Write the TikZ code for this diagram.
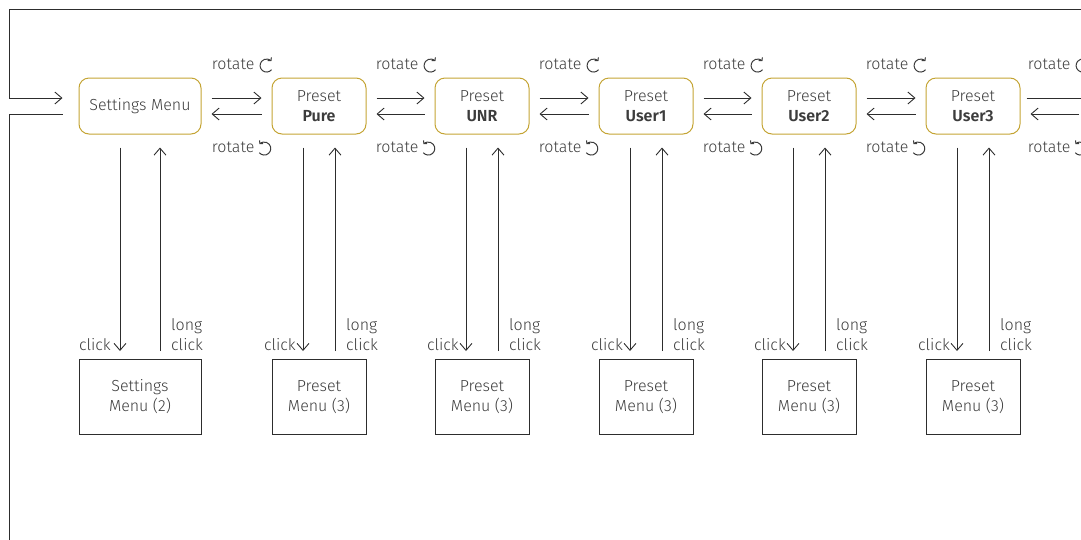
\documentclass[tikz,border=0pt]{standalone}
\usepackage{fontspec}
\setmainfont{Fira Sans}[UprightFont=* Light, BoldFont=* SemiBold]
\usetikzlibrary{arrows.meta,positioning}

\definecolor{menugold}{RGB}{196,164,52}
\definecolor{textgray}{RGB}{60,60,60}
\definecolor{linegray}{RGB}{45,45,45}

% small turn symbols
\newcommand{\cwsym}{\tikz[baseline=-4pt, x=1pt, y=1pt]
  \draw[textgray, line width=1pt, -{Straight Barb[length=2.2pt,width=5pt]}]
  (-40:6.5) arc[start angle=-40, end angle=-318, radius=6.5];}
\newcommand{\ccwsym}{\tikz[baseline=-4pt, x=1pt, y=1pt]
  \draw[textgray, line width=1pt, -{Straight Barb[length=2.2pt,width=5pt]}]
  (220:6.5) arc[start angle=220, end angle=498, radius=6.5];}

\tikzset{
  statebox/.style={draw=menugold, rounded corners=10pt, line width=1pt,
    minimum height=56pt, minimum width=94pt, text=textgray, align=center,
    inner sep=0pt, font=\fontsize{16}{20}\selectfont},
  menubox/.style={draw=linegray, line width=1pt, minimum height=75pt,
    minimum width=94pt, text=textgray, align=center, inner sep=0pt,
    font=\fontsize{16}{20}\selectfont},
  lbl/.style={text=textgray, font=\fontsize{16}{20}\selectfont,
    inner sep=0pt, align=left},
  arr/.style={draw=linegray, line width=0.9pt,
    -{Straight Barb[length=7pt,width=12pt]}},
}

\begin{document}
\begin{tikzpicture}[x=1pt, y=-1pt]
    \useasboundingbox (0,0) rectangle (1081,539);
    \clip (0,0) rectangle (1081,539);

    % main states
    \node[statebox, minimum width=122pt] (sm) at (140,106) {Settings Menu};
    \node[statebox] (pure) at (319,106) {Preset\\\textbf{Pure}};
    \node[statebox] (unr) at (482,106) {Preset\\\textbf{UNR}};
    \node[statebox] (user1) at (646,106) {Preset\\\textbf{User1}};
    \node[statebox] (user2) at (809,106) {Preset\\\textbf{User2}};
    \node[statebox] (user3) at (973,106) {Preset\\\textbf{User3}};
    \coordinate (nextw) at (1089,106);

    % sub menus
    \node[menubox, minimum width=122pt] (smm) at (140,397) {Settings\\Menu (2)};
    \node[menubox] (puremm) at (319,397) {Preset\\Menu (3)};
    \node[menubox] (unrmm) at (482,397) {Preset\\Menu (3)};
    \node[menubox] (user1mm) at (646,397) {Preset\\Menu (3)};
    \node[menubox] (user2mm) at (809,397) {Preset\\Menu (3)};
    \node[menubox] (user3mm) at (973,397) {Preset\\Menu (3)};

    % loop back to settings
    \coordinate (looptop) at (1090,9);
    \coordinate (loopbot) at (9,545);
    \draw[arr] (looptop) -- (9,9) -- (9,98) -- ([xshift=-16pt,yshift=8pt]sm.west);
    \draw[draw=linegray, line width=0.9pt] ([xshift=-16pt,yshift=-8pt]sm.west) -- (9,114) -- (loopbot);

    % rotate
    \draw[arr, shorten <=10pt, shorten >=10pt] ([yshift=8pt]sm.east) -- ([yshift=8pt]pure.west);
    \draw[arr, shorten <=10pt, shorten >=10pt] ([yshift=-8pt]pure.west) -- ([yshift=-8pt]sm.east);
    \draw[arr, shorten <=10pt, shorten >=10pt] ([yshift=8pt]pure.east) -- ([yshift=8pt]unr.west);
    \draw[arr, shorten <=10pt, shorten >=10pt] ([yshift=-8pt]unr.west) -- ([yshift=-8pt]pure.east);
    \draw[arr, shorten <=10pt, shorten >=10pt] ([yshift=8pt]unr.east) -- ([yshift=8pt]user1.west);
    \draw[arr, shorten <=10pt, shorten >=10pt] ([yshift=-8pt]user1.west) -- ([yshift=-8pt]unr.east);
    \draw[arr, shorten <=10pt, shorten >=10pt] ([yshift=8pt]user1.east) -- ([yshift=8pt]user2.west);
    \draw[arr, shorten <=10pt, shorten >=10pt] ([yshift=-8pt]user2.west) -- ([yshift=-8pt]user1.east);
    \draw[arr, shorten <=10pt, shorten >=10pt] ([yshift=8pt]user2.east) -- ([yshift=8pt]user3.west);
    \draw[arr, shorten <=10pt, shorten >=10pt] ([yshift=-8pt]user3.west) -- ([yshift=-8pt]user2.east);
    \draw[arr, shorten <=6pt] ([yshift=8pt]user3.east) -- ([yshift=8pt]nextw);
    \draw[arr, shorten <=10pt, shorten >=10pt] ([yshift=-8pt]nextw) -- ([yshift=-8pt]user3.east);

    \node[lbl] (rot1a) at (242,65) {rotate \cwsym};
    \node[lbl] (rot1b) at (242,148) {rotate \ccwsym};
    \node[lbl] (rot2a) at (406,65) {rotate \cwsym};
    \node[lbl] (rot2b) at (406,148) {rotate \ccwsym};
    \node[lbl] (rot3a) at (569,65) {rotate \cwsym};
    \node[lbl] (rot3b) at (569,148) {rotate \ccwsym};
    \node[lbl] (rot4a) at (733,65) {rotate \cwsym};
    \node[lbl] (rot4b) at (733,148) {rotate \ccwsym};
    \node[lbl] (rot5a) at (896,65) {rotate \cwsym};
    \node[lbl] (rot5b) at (896,148) {rotate \ccwsym};
    \node[lbl] (rot6a) at (1058,65) {rotate \cwsym};
    \node[lbl] (rot6b) at (1058,148) {rotate \ccwsym};

    % click / long click
    \draw[arr, shorten <=13pt, shorten >=8pt] ([xshift=-20pt]sm.south) -- ([xshift=-20pt]smm.north);
    \draw[arr, shorten <=8pt, shorten >=13pt] ([xshift=20pt]smm.north) -- ([xshift=20pt]sm.south);
    \node[lbl, anchor=east] (smclick) at (111,345) {click};
    \node[lbl, anchor=west] (smlong) at (171,335) {long\\click};

    \draw[arr, shorten <=13pt, shorten >=8pt] ([xshift=-16pt]pure.south) -- ([xshift=-16pt]puremm.north);
    \draw[arr, shorten <=8pt, shorten >=13pt] ([xshift=16pt]puremm.north) -- ([xshift=16pt]pure.south);
    \node[lbl, anchor=east] (pureclick) at (296,345) {click};
    \node[lbl, anchor=west] (purelong) at (346,335) {long\\click};

    \draw[arr, shorten <=13pt, shorten >=8pt] ([xshift=-16pt]unr.south) -- ([xshift=-16pt]unrmm.north);
    \draw[arr, shorten <=8pt, shorten >=13pt] ([xshift=16pt]unrmm.north) -- ([xshift=16pt]unr.south);
    \node[lbl, anchor=east] (unrclick) at (459,345) {click};
    \node[lbl, anchor=west] (unrlong) at (509,335) {long\\click};

    \draw[arr, shorten <=13pt, shorten >=8pt] ([xshift=-16pt]user1.south) -- ([xshift=-16pt]user1mm.north);
    \draw[arr, shorten <=8pt, shorten >=13pt] ([xshift=16pt]user1mm.north) -- ([xshift=16pt]user1.south);
    \node[lbl, anchor=east] (user1click) at (623,345) {click};
    \node[lbl, anchor=west] (user1long) at (673,335) {long\\click};

    \draw[arr, shorten <=13pt, shorten >=8pt] ([xshift=-16pt]user2.south) -- ([xshift=-16pt]user2mm.north);
    \draw[arr, shorten <=8pt, shorten >=13pt] ([xshift=16pt]user2mm.north) -- ([xshift=16pt]user2.south);
    \node[lbl, anchor=east] (user2click) at (786,345) {click};
    \node[lbl, anchor=west] (user2long) at (836,335) {long\\click};

    \draw[arr, shorten <=13pt, shorten >=8pt] ([xshift=-16pt]user3.south) -- ([xshift=-16pt]user3mm.north);
    \draw[arr, shorten <=8pt, shorten >=13pt] ([xshift=16pt]user3mm.north) -- ([xshift=16pt]user3.south);
    \node[lbl, anchor=east] (user3click) at (950,345) {click};
    \node[lbl, anchor=west] (user3long) at (1000,335) {long\\click};
\end{tikzpicture}
\end{document}
